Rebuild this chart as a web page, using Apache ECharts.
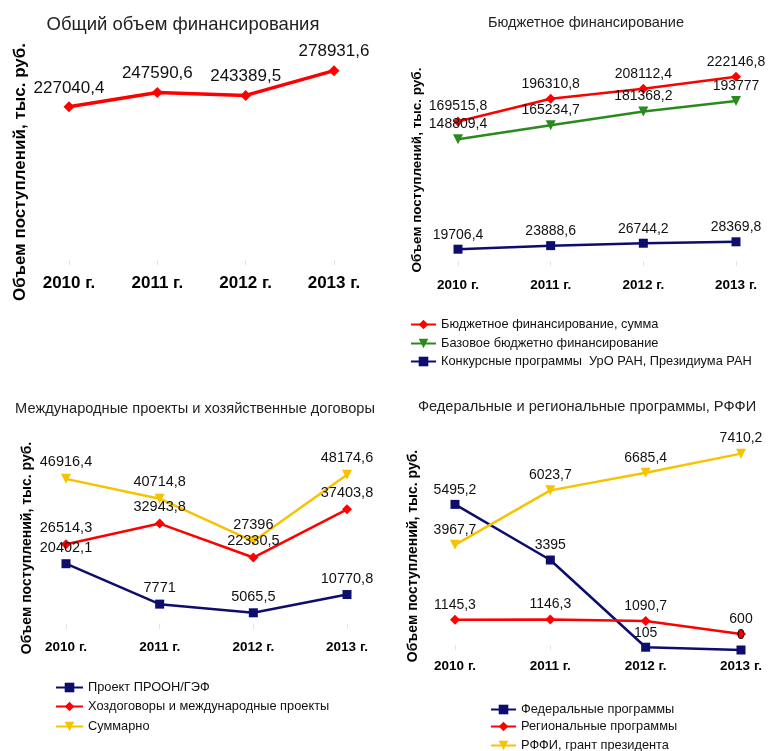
<!DOCTYPE html>
<html>
<head>
<meta charset="utf-8">
<script src="https://cdn.jsdelivr.net/npm/echarts@6/dist/echarts.min.js"></script>
<style>
  html, body { margin: 0; padding: 0; background: #fff; }
  #chart { width: 775px; height: 751px; }
</style>
</head>
<body>
<div id="chart"></div>
<script>
// Categories
var years = ['2010 г.', '2011 г.', '2012 г.', '2013 г.'];

// Total funding
var totalFunding = [227040.4, 247590.6, 243389.5, 278931.6];

// Budget funding
var budgetSum = [169515.8, 196310.8, 208112.4, 222146.8];
var budgetBase = [148809.4, 165234.7, 181368.2, 193777];
var budgetGrants = [19706.4, 23888.6, 26744.2, 28369.8];

// International projects and contracts
var undpProject = [20402.1, 7771, 5065.5, 10770.8];
var contracts = [26514.3, 32943.8, 22330.5, 37403.8];
var intlTotal = [46916.4, 40714.8, 27396, 48174.6];

// Federal and regional programs, RFBR
var federalPrograms = [5495.2, 3395, 105, 0];
var regionalPrograms = [1145.3, 1146.3, 1090.7, 600];
var rffiGrants = [3967.7, 6023.7, 6685.4, 7410.2];

var FONT = '"Liberation Sans", Arial, sans-serif';
var RED = '#ff0000', GREEN = '#2a8a1e', NAVY = '#0d0d6e', YELLOW = '#f7c200';
var AXIS_NAME = 'Объем поступлений, тыс. руб.';

function fmt(p) { return String(p.value).replace('.', ','); }

function xAxis(gi, size, margin) {
  return {
    type: 'category', gridIndex: gi, data: years, boundaryGap: false,
    axisLine: { show: false },
    axisTick: { show: true, inside: true, length: 5, lineStyle: { color: '#e4e4e4' } },
    axisLabel: { fontFamily: FONT, fontWeight: 'bold', fontSize: size, color: '#000', margin: margin },
    splitLine: { show: false }
  };
}
function yAxis(gi, max) {
  return {
    type: 'value', gridIndex: gi, min: 0, max: max,
    axisLine: { show: false }, axisTick: { show: false },
    axisLabel: { show: false }, splitLine: { show: false }
  };
}
function line(name, gi, data, color, symbol, symbolSize, width, fontSize, dist) {
  return {
    type: 'line', name: name, xAxisIndex: gi, yAxisIndex: gi, data: data,
    symbol: symbol, symbolSize: symbolSize, showAllSymbol: true,
    symbolRotate: symbol === 'triangle' ? 180 : 0,
    lineStyle: { color: color, width: width },
    itemStyle: { color: color },
    label: { show: true, position: 'top', distance: dist, formatter: fmt,
             fontFamily: FONT, fontSize: fontSize, color: '#111' },
    emphasis: { disabled: true }, animation: false
  };
}
function title(text, cx, top, size) {
  return { text: text, left: cx, top: top, textAlign: 'center',
           textStyle: { fontFamily: FONT, fontWeight: 'normal', fontSize: size, color: '#222' } };
}
function yName(x, y, size) {
  return { type: 'text', x: x, y: y, rotation: Math.PI / 2,
           style: { text: AXIS_NAME, fontFamily: FONT, fontWeight: 'bold', fontSize: size,
                    fill: '#000', align: 'center', verticalAlign: 'middle' } };
}
// one legend entry per component so each row sits at its own line
function legendItem(name, left, rowCenter, iconWidth) {
  return { data: [name], orient: 'vertical', left: left, top: rowCenter - 10,
           itemWidth: iconWidth, itemHeight: 12,
           textStyle: { fontFamily: FONT, fontSize: 12.8, color: '#111' },
           selectedMode: false };
}

var chart = echarts.init(document.getElementById('chart'), null, { renderer: 'canvas' });
chart.setOption({
  backgroundColor: '#fff',
  animation: false,
  title: [
    title('Общий объем финансирования', 178, 10, 18.5),
    title('Бюджетное финансирование', 581, 10, 14.5),
    title('Международные проекты и хозяйственные договоры', 190, 396, 14.6),
    title('Федеральные и региональные программы, РФФИ', 582, 394, 14.6)
  ],
  grid: [
    { left: 69, top: 56, width: 265, height: 209 },
    { left: 458, top: 53, width: 278, height: 213 },
    { left: 66, top: 437, width: 281, height: 192 },
    { left: 455, top: 438, width: 286, height: 212 }
  ],
  xAxis: [xAxis(0, 17, 10), xAxis(1, 13.5, 12), xAxis(2, 13.5, 11), xAxis(3, 13.5, 9)],
  yAxis: [yAxis(0, 300000), yAxis(1, 250000), yAxis(2, 60000), yAxis(3, 8000)],
  legend: [
    legendItem('Бюджетное финансирование, сумма', 405, 323, 25),
    legendItem('Базовое бюджетно финансирование', 405, 342, 25),
    legendItem('Конкурсные программы  УрО РАН, Президиума РАН', 405, 360, 25),

    legendItem('Проект ПРООН/ГЭФ', 50, 686, 27),
    legendItem('Хоздоговоры и международные проекты', 50, 705, 27),
    legendItem('Суммарно', 50, 725, 27),

    legendItem('Федеральные программы', 485, 708, 25),
    legendItem('Региональные программы', 485, 725, 25),
    legendItem('РФФИ, грант президента', 485, 744, 25)
  ],
  graphic: [
    yName(20, 172, 17),
    yName(417, 170, 13.5),
    yName(27, 548, 14),
    yName(413, 556, 14)
  ],
  series: [
    line('Общий объем', 0, totalFunding, RED, 'diamond', 11, 3.5, 17, 5),

    line('Бюджетное финансирование, сумма', 1, budgetSum, RED, 'diamond', 10, 2.5, 14, 3),
    line('Базовое бюджетно финансирование', 1, budgetBase, GREEN, 'triangle', 10, 2.5, 14, 3),
    line('Конкурсные программы  УрО РАН, Президиума РАН', 1, budgetGrants, NAVY, 'rect', 9, 2.5, 14, 3),

    line('Проект ПРООН/ГЭФ', 2, undpProject, NAVY, 'rect', 9, 2.5, 14.5, 4),
    line('Хоздоговоры и международные проекты', 2, contracts, RED, 'diamond', 10, 2.5, 14.5, 4),
    line('Суммарно', 2, intlTotal, YELLOW, 'triangle', 10, 2.5, 14.5, 4),

    line('Федеральные программы', 3, federalPrograms, NAVY, 'rect', 9, 2.5, 14, 3),
    line('Региональные программы', 3, regionalPrograms, RED, 'diamond', 10, 2.5, 14, 3),
    line('РФФИ, грант президента', 3, rffiGrants, YELLOW, 'triangle', 10, 2.5, 14, 3)
  ]
});
</script>
</body>
</html>
